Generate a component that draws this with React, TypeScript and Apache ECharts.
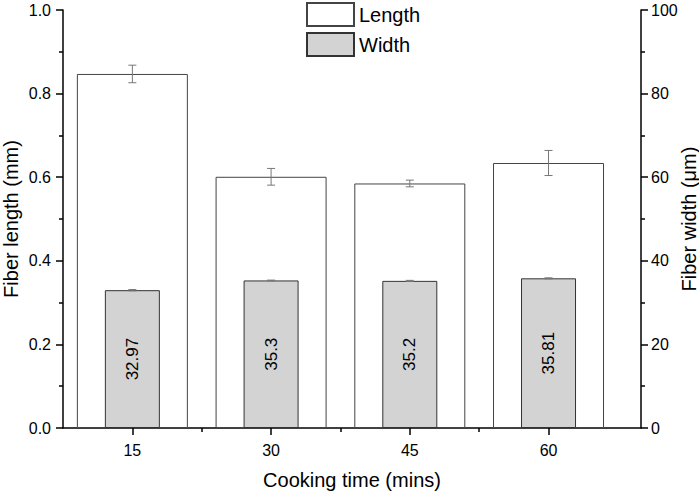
import React, { useEffect, useRef } from "react";
import * as echarts from "echarts";

const cookingTimes = [15, 30, 45, 60];
const lengthMeans = [0.847, 0.601, 0.585, 0.634];
const lengthErrors = [0.021, 0.02, 0.008, 0.03];
const widthMeans = [32.97, 35.3, 35.2, 35.81];
const widthErrors = [0.15, 0.08, 0.12, 0.12];
const widthLabels = ["32.97", "35.3", "35.2", "35.81"];
const xMajorTicks = [15, 30, 45, 60];
const xMinorTicks = [22.5, 37.5, 52.5];

const FONT = "'Liberation Sans', Arial, sans-serif";

function errorSeries(means: number[], errs: number[], xIdx: number, yIdx: number) {
  return {
    type: "custom",
    xAxisIndex: xIdx,
    yAxisIndex: yIdx,
    z: 10,
    silent: true,
    data: cookingTimes.map((t, i) => [t, means[i] - errs[i], means[i] + errs[i]]),
    renderItem: (params: any, api: any) => {
      const x = api.value(0);
      const lo = api.coord([x, api.value(1)]);
      const hi = api.coord([x, api.value(2)]);
      const hw = 4;
      const style = { stroke: "#777", lineWidth: 1 };
      return {
        type: "group",
        children: [
          { type: "line", shape: { x1: lo[0], y1: lo[1], x2: hi[0], y2: hi[1] }, style },
          { type: "line", shape: { x1: hi[0] - hw, y1: hi[1], x2: hi[0] + hw, y2: hi[1] }, style },
          { type: "line", shape: { x1: lo[0] - hw, y1: lo[1], x2: lo[0] + hw, y2: lo[1] }, style },
        ],
      };
    },
  };
}

export default function App() {
  const ref = useRef<HTMLDivElement>(null);
  useEffect(() => {
    document.body.style.margin = "0";
    if (!ref.current) return;
    const chart = echarts.init(ref.current, null, { renderer: "svg" });
    const axisText = { color: "#000", fontSize: 16, fontFamily: FONT };
    const nameText = { color: "#000", fontSize: 20, fontFamily: FONT };
    const line = { show: true, lineStyle: { color: "#000", width: 1.5 } };
    chart.setOption({
      animation: false,
      backgroundColor: "#fff",
      textStyle: { fontFamily: FONT },
      grid: { left: 63, right: 58, top: 10, bottom: 67, containLabel: false, outerBoundsMode: "none" },
      legend: {
        orient: "vertical",
        left: 306,
        top: 2,
        padding: 0,
        itemWidth: 47,
        itemHeight: 23,
        itemGap: 5,
        textStyle: { color: "#000", fontSize: 20, fontFamily: FONT },
        data: [
          { name: "Length", icon: "rect" },
          { name: "Width", icon: "rect" },
        ],
      },
      xAxis: [
        {
          type: "value",
          min: 7.5,
          max: 70,
          position: "bottom",
          axisLine: line,
          splitLine: { show: false },
          axisTick: { show: true, length: 7, customValues: xMajorTicks, lineStyle: { color: "#000", width: 1.5 } },
          axisLabel: { ...axisText, margin: 14, customValues: xMajorTicks },
          name: "Cooking time (mins)",
          nameLocation: "middle",
          nameGap: 42,
          nameMoveOverlap: false,
          nameTextStyle: nameText,
        },
        {
          type: "value",
          min: 7.5,
          max: 70,
          position: "bottom",
          axisLine: { show: false },
          splitLine: { show: false },
          axisTick: { show: true, length: 4, customValues: xMinorTicks, lineStyle: { color: "#000", width: 1.5 } },
          axisLabel: { show: false },
        },
      ],
      yAxis: [
        {
          type: "value",
          min: 0,
          max: 1,
          interval: 0.2,
          position: "left",
          axisLine: line,
          splitLine: { show: false },
          axisTick: { show: true, length: 7, lineStyle: { color: "#000", width: 1.5 } },
          minorTick: { show: true, splitNumber: 2, length: 4, lineStyle: { color: "#000", width: 1.5 } },
          axisLabel: { ...axisText, margin: 12, formatter: (v: number) => v.toFixed(1) },
          name: "Fiber length (mm)",
          nameLocation: "middle",
          nameGap: 42,
          nameMoveOverlap: false,
          nameTextStyle: nameText,
        },
        {
          type: "value",
          min: 0,
          max: 100,
          interval: 20,
          position: "right",
          axisLine: line,
          splitLine: { show: false },
          axisTick: { show: true, length: 7, lineStyle: { color: "#000", width: 1.5 } },
          minorTick: { show: true, splitNumber: 2, length: 4, lineStyle: { color: "#000", width: 1.5 } },
          axisLabel: { ...axisText, margin: 10 },
          name: "Fiber width (μm)",
          nameLocation: "middle",
          nameGap: 38,
          nameMoveOverlap: false,
          nameTextStyle: nameText,
        },
      ],
      series: [
        {
          name: "Length",
          type: "bar",
          xAxisIndex: 0,
          yAxisIndex: 0,
          barWidth: 111,
          itemStyle: { color: "#fff", borderColor: "#444", borderWidth: 1 },
          data: cookingTimes.map((t, i) => [t, lengthMeans[i]]),
        },
        errorSeries(lengthMeans, lengthErrors, 0, 0),
        {
          name: "Width",
          type: "bar",
          xAxisIndex: 1,
          yAxisIndex: 1,
          barWidth: 55,
          z: 5,
          itemStyle: { color: "#d3d3d3", borderColor: "#333", borderWidth: 1 },
          label: {
            show: true,
            position: "inside",
            rotate: 90,
            color: "#000",
            fontSize: 17,
            fontFamily: FONT,
            formatter: (p: any) => widthLabels[p.dataIndex],
          },
          data: cookingTimes.map((t, i) => [t, widthMeans[i]]),
        },
        { ...errorSeries(widthMeans, widthErrors, 1, 1), z: 11 },
      ],
    });
    return () => chart.dispose();
  }, []);
  return <div ref={ref} style={{ width: 699, height: 495 }} />;
}
